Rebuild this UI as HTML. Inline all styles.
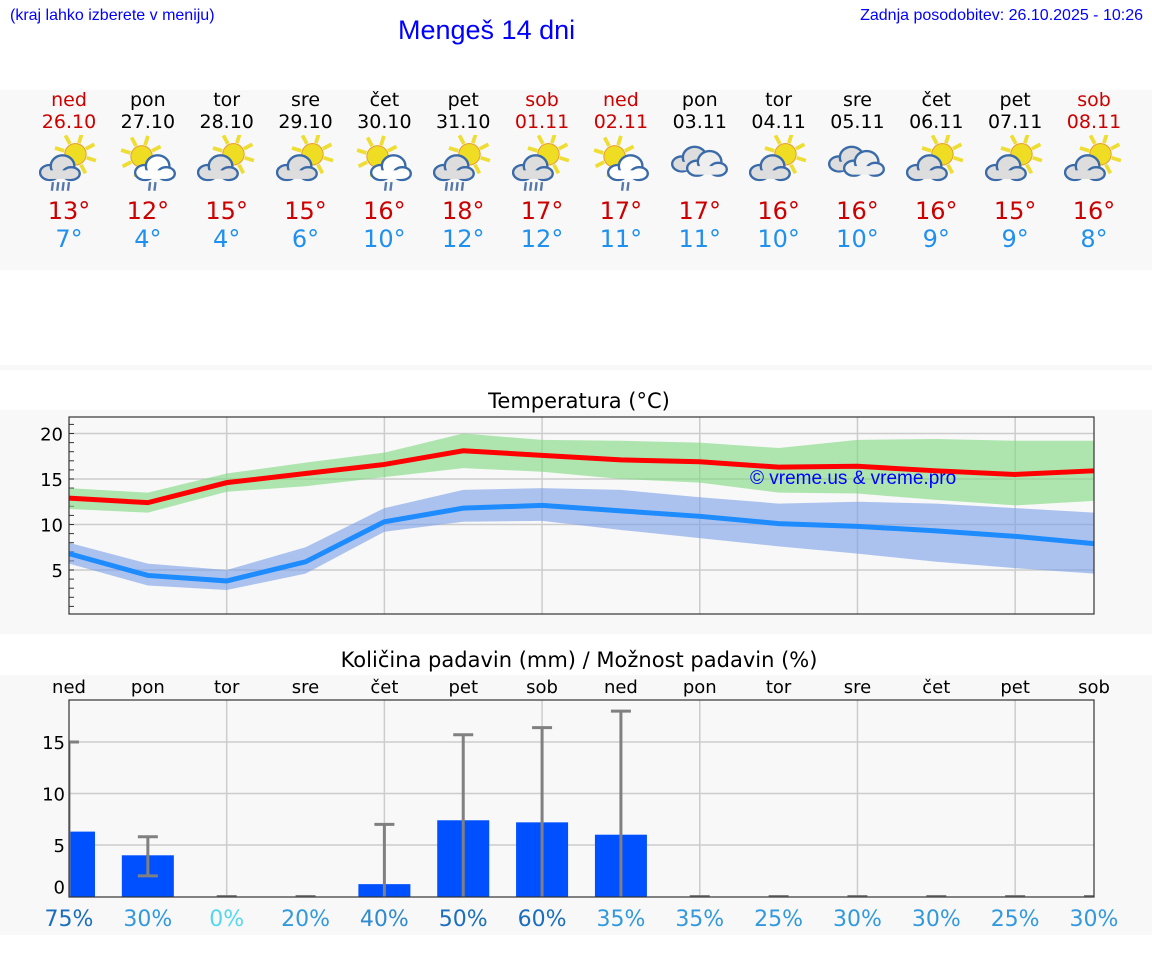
<!DOCTYPE html>
<html><head><meta charset="utf-8">
<style>
body{margin:0;width:1152px;height:975px;background:#fff;font-family:"DejaVu Sans","Liberation Sans",sans-serif;position:relative;overflow:hidden}
.abs{position:absolute}
.band{position:absolute;left:0;width:1152px;background:#f8f8f8}
.day{position:absolute;width:79px;text-align:center;font-size:19px}
</style></head><body>
<div class="abs" style="left:10px;top:7px;font:16px 'Liberation Sans',sans-serif;color:#00f">(kraj lahko izberete v meniju)</div>
<div class="abs" style="left:398px;top:15px;font:27px 'Liberation Sans',sans-serif;color:#00f">Mengeš 14 dni</div>
<div class="abs" style="right:9px;top:7px;font:16px 'Liberation Sans',sans-serif;color:#00f">Zadnja posodobitev: 26.10.2025 - 10:26</div>
<div class="band" style="top:90px;height:180px"></div>
<div class="band" style="top:365px;height:5px"></div>
<div class="band" style="top:410px;height:224px"></div>
<div class="band" style="top:675px;height:260px"></div>
<div id="days"></div>
<svg id="chart" class="abs" style="left:0;top:0" width="1152" height="975"></svg>
<script>
const dayNames=["ned","pon","tor","sre","čet","pet","sob","ned","pon","tor","sre","čet","pet","sob"];
const dates=["26.10","27.10","28.10","29.10","30.10","31.10","01.11","02.11","03.11","04.11","05.11","06.11","07.11","08.11"];
const hiT=[13,12,15,15,16,18,17,17,17,16,16,16,15,16];
const loT=[7,4,4,6,10,12,12,11,11,10,10,9,9,8];
const icons=["rain","rainc","pc","pc","rainc","rain","rain","rainc","cloud","pc","cloud","pc","pc","pc"];
const maxLine=[12.9,12.4,14.6,15.6,16.6,18.1,17.6,17.1,16.9,16.3,16.4,15.9,15.5,15.9];
const maxHi=[14.0,13.5,15.6,16.8,17.9,20.0,19.3,19.2,19.0,18.4,19.3,19.4,19.2,19.2];
const maxLo=[11.7,11.3,13.6,14.2,15.2,16.2,15.8,15.0,14.6,13.5,13.4,12.7,12.1,12.6];
const minLine=[6.8,4.4,3.8,5.9,10.3,11.8,12.1,11.5,10.9,10.1,9.8,9.3,8.7,7.9];
const minHi=[8.0,5.7,5.0,7.5,11.8,13.8,14.0,13.8,13.0,12.3,12.5,12.3,11.8,11.3];
const minLo=[5.7,3.3,2.8,4.6,9.2,10.3,10.4,9.4,8.5,7.6,6.8,5.9,5.2,4.6];
const tempTicks=[5,10,15,20];
const precip=[6.3,4.0,0,0,1.2,7.4,7.2,6.0,0,0,0,0,0,0];
const errLo=[0,2.0,0,0,0,0,0,0,0,0,0,0,0,0];
const errHi=[15,5.8,0,0,7.0,15.7,16.4,18.0,0,0,0,0,0,0];
const chance=[75,30,0,20,40,50,60,35,35,25,30,30,25,30];
const precipTicks=[0,5,10,15];

const NS="http://www.w3.org/2000/svg";
const svg=document.getElementById('chart');
const X0=69,X1=1094,step=(X1-X0)/13;
const xd=i=>X0+i*step;
const yT=v=>615.5-9.1*v;
const yP=v=>896.5-10.3*v;
function el(tag,attrs,parent){const e=document.createElementNS(NS,tag);for(const k in attrs)e.setAttribute(k,attrs[k]);(parent||svg).appendChild(e);return e;}
function txt(x,y,s,size,fill,anchor){const t=el('text',{x:x,y:y,'font-size':size,fill:fill,'text-anchor':anchor||'middle','font-family':'DejaVu Sans, Liberation Sans, sans-serif'});t.textContent=s;return t;}

const days=document.getElementById('days');
function iconSvg(kind){
 let s='<svg width="60" height="60" viewBox="0 0 56 52">';
 const sun=(cx,cy)=>{let r='';for(let a=0;a<8;a++){const an=a*Math.PI/4+0.3;r+=`<line x1="${cx+Math.cos(an)*11}" y1="${cy+Math.sin(an)*11}" x2="${cx+Math.cos(an)*20}" y2="${cy+Math.sin(an)*20}" stroke="#eedd33" stroke-width="3.5"/>`;}return r+`<circle cx="${cx}" cy="${cy}" r="10" fill="#eedd22" stroke="#e8a030"/>`;};
 const cloud=(cx,cy,f)=>`<g fill="${f}" stroke="#3a6aa8" stroke-width="2.2"><ellipse cx="${cx-9}" cy="${cy+3}" rx="9" ry="7"/><ellipse cx="${cx+3}" cy="${cy-3}" rx="11" ry="10"/><ellipse cx="${cx+11}" cy="${cy+4}" rx="8" ry="6"/><rect x="${cx-11}" y="${cy+1}" width="22" height="8" stroke="none"/></g>`;
 if(kind==='cloud'){s+=cloud(20,22,'#ddd')+cloud(34,26,'#eee');}
 else if(kind==='rainc'){s+=sun(22,18);s+=cloud(34,30,'#fff');}
 else{s+=sun(34,16);s+=cloud(19,30,'#ddd');}
 if(kind==='rain'||kind==='rainc'){const n=kind==='rain'?4:2;for(let i=0;i<n;i++)s+=`<line x1="${(kind==='rain'?13:30)+i*5}" y1="42" x2="${(kind==='rain'?12:29)+i*5}" y2="50" stroke="#5577aa" stroke-width="2.2"/>`;}
 return s+'</svg>';
}
for(let i=0;i<14;i++){
 const red=(dayNames[i]==='ned'||dayNames[i]==='sob');
 const d=document.createElement('div');d.className='day';
 
 
 d.style.left=(xd(i)-39.5)+'px';d.style.top='89px';
 d.innerHTML=`<div style="color:${red?'#cc0000':'#000'};line-height:22px">${dayNames[i]}<br>${dates[i]}</div><div style="height:62px;margin-top:2px">${iconSvg(icons[i])}</div><div style="font-size:24px;line-height:28px;color:#cc0000">${hiT[i]}°</div><div style="font-size:24px;line-height:28px;color:#2090ee">${loT[i]}°</div>`;
 days.appendChild(d);
}

txt(579,408,'Temperatura (°C)',21,'#000');
el('rect',{x:X0,y:417,width:X1-X0,height:197,fill:'#f8f8f8'});
for(let i=2;i<14;i+=2)el('line',{x1:xd(i),x2:xd(i),y1:417,y2:614,stroke:'#ccc','stroke-width':1.5});
tempTicks.forEach(v=>{el('line',{x1:X0,x2:X1,y1:yT(v),y2:yT(v),stroke:'#ccc','stroke-width':1.5});const t=txt(63,yT(v)+7,String(v),18,'#000','end');});
for(let v=1;v<22;v++)el('line',{x1:X0,x2:X0+5,y1:yT(v),y2:yT(v),stroke:'#333'});
function band(hi,lo,fill,name){let p=hi.map((v,i)=>xd(i)+','+yT(v)).join(' ')+' '+lo.map((v,i)=>xd(i)+','+yT(v)).reverse().join(' ');const b=el('polygon',{points:p,fill:fill,opacity:0.6});}
band(maxHi,maxLo,'#7dd87d','max-temp-range');
band(minHi,minLo,'#7a9ee8','min-temp-range');
const ml=el('polyline',{points:maxLine.map((v,i)=>xd(i)+','+yT(v)).join(' '),fill:'none',stroke:'#ff0000','stroke-width':5});

const nl=el('polyline',{points:minLine.map((v,i)=>xd(i)+','+yT(v)).join(' '),fill:'none',stroke:'#1e8cff','stroke-width':5});

const wm=el('text',{x:750,y:484,'font-size':19,fill:'#0000ff','font-family':'Liberation Sans, sans-serif'});wm.textContent='© vreme.us & vreme.pro';
el('rect',{x:X0,y:417,width:X1-X0,height:197,fill:'none',stroke:'#333','stroke-width':1.2});

txt(579,667,'Količina padavin (mm) / Možnost padavin (%)',21,'#000');
for(let i=0;i<14;i++)txt(xd(i),693,dayNames[i],18,'#000');
el('rect',{x:X0,y:700,width:X1-X0,height:197,fill:'#f8f8f8'});
for(let i=2;i<14;i+=2)el('line',{x1:xd(i),x2:xd(i),y1:700,y2:897,stroke:'#ccc','stroke-width':1.5});
precipTicks.forEach(v=>{if(v>0)el('line',{x1:X0,x2:X1,y1:yP(v),y2:yP(v),stroke:'#ccc','stroke-width':1.5});const t=txt(65,(v===0?yP(v)-10:yP(v))+7,String(v),18,'#000','end');});
const cp=el('clipPath',{id:'pc'});el('rect',{x:X0,y:700,width:X1-X0,height:197},cp);
const g=el('g',{'clip-path':'url(#pc)'});
for(let i=0;i<14;i++){
 if(precip[i]>0){const b=el('rect',{x:xd(i)-26,y:yP(precip[i]),width:52,height:yP(0)-yP(precip[i]),fill:'#0050ff'},g);}
 if(errHi[i]>0){el('line',{x1:xd(i),x2:xd(i),y1:yP(errHi[i]),y2:yP(errLo[i]),stroke:'#808080','stroke-width':3},g);
  el('line',{x1:xd(i)-10,x2:xd(i)+10,y1:yP(errHi[i]),y2:yP(errHi[i]),stroke:'#808080','stroke-width':3},g);
  if(errLo[i]>0)el('line',{x1:xd(i)-10,x2:xd(i)+10,y1:yP(errLo[i]),y2:yP(errLo[i]),stroke:'#808080','stroke-width':3},g);}
 else if(precip[i]===0)el('line',{x1:xd(i)-10,x2:xd(i)+10,y1:896,y2:896,stroke:'#808080','stroke-width':2},g);
 const c=chance[i];const col=c===0?'#55d8ee':c>=50?'#1a6ebd':c>=40?'#2f8ad0':'#3399dd';
 const t=txt(xd(i),926,c+'%',22,col);
}
el('rect',{x:X0,y:700,width:X1-X0,height:197,fill:'none',stroke:'#333','stroke-width':1.2});
</script>
</body></html>
